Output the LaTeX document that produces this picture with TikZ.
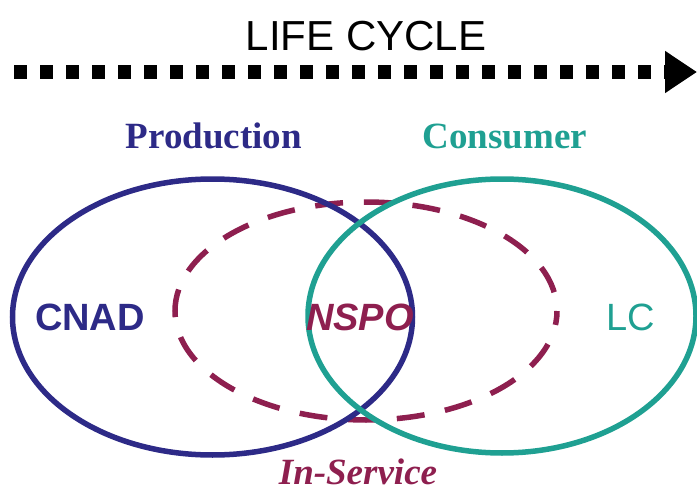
\documentclass[tikz,border=0pt]{standalone}
\usepackage{fontspec}
\setmainfont{Liberation Serif}
\setsansfont{Liberation Sans}
\usetikzlibrary{arrows.meta}
\definecolor{navy}{HTML}{2D2A87}
\definecolor{tealc}{HTML}{1FA092}
\definecolor{maroon}{HTML}{8E1F4F}
\tikzset{
  setline/.style={line width=5.5pt},
  sanslabel/.style={font=\sffamily\fontsize{38}{38}\selectfont, inner sep=0pt},
  seriflabel/.style={font=\bfseries\fontsize{37}{37}\selectfont, inner sep=0pt},
}
\begin{document}
\begin{tikzpicture}[x=1pt,y=-1pt]
\useasboundingbox (0,0) rectangle (697,495);
% title and arrow
\node[font=\sffamily\fontsize{42}{42}\selectfont, inner sep=0pt] (title) at (366,36) {LIFE CYCLE};
\coordinate (ls) at (14,72);
\coordinate (le) at (697,72);
\draw[line width=14pt, dash pattern=on 13pt off 13pt, -{Triangle[length=32pt,width=40pt]}] (ls) -- (le);
% sets
\draw[setline, maroon, dash pattern=on 28pt off 20.8pt, dash phase=14pt] (366,311) ellipse [x radius=191, y radius=109];
\draw[setline, navy] (212.5,317) ellipse [x radius=200, y radius=138];
\draw[setline, tealc] (502,316) ellipse [x radius=194, y radius=137];
% labels
\node[seriflabel, navy] (prod) at (214,136) {Production};
\node[seriflabel, tealc] (cons) at (505,136) {Consumer};
\node[sanslabel, navy, font=\sffamily\bfseries\fontsize{38}{38}\selectfont] (cnad) at (90,317) {CNAD};
\node[sanslabel, maroon, font=\sffamily\bfseries\itshape\fontsize{38}{38}\selectfont] (nspo) at (360,317) {NSPO};
\node[sanslabel, tealc] (lc) at (631,317) {LC};
\node[seriflabel, maroon, font=\bfseries\itshape\fontsize{37}{37}\selectfont] (insv) at (358,472) {In-Service};
\end{tikzpicture}
\end{document}
